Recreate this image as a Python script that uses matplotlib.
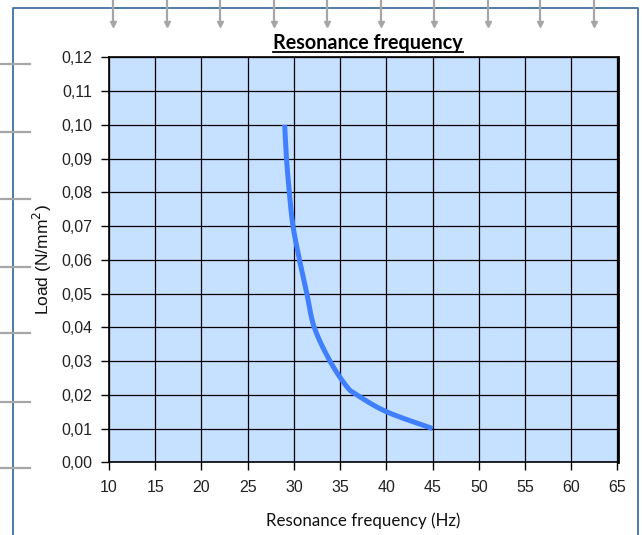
import matplotlib
matplotlib.use("Agg")
import matplotlib.pyplot as plt
from matplotlib.lines import Line2D
from matplotlib.ticker import FuncFormatter
import numpy as np

# Data
frequency_hz = [45.0, 40.0, 36.8, 35.7, 33.9, 32.2, 31.4, 30.6, 29.9, 29.5, 29.2, 29.0]
load_nmm2 = [0.010, 0.015, 0.020, 0.0225, 0.030, 0.040, 0.050, 0.060, 0.070, 0.080, 0.090, 0.100]
x_ticks = [10, 15, 20, 25, 30, 35, 40, 45, 50, 55, 60, 65]
y_ticks = [0.00, 0.01, 0.02, 0.03, 0.04, 0.05, 0.06, 0.07, 0.08, 0.09, 0.10, 0.11, 0.12]

W, H = 642, 535
fig = plt.figure(figsize=(W / 100, H / 100), dpi=100)
fig.patch.set_facecolor("white")

def fx(px):
    return px / W

def fy(py):
    return 1 - py / H

# Decorative frame and markers
fig.add_artist(Line2D([fx(13), fx(13), fx(638), fx(638)], [fy(540), fy(8), fy(8), fy(540)],
                      color="#41719C", lw=1.3))
for xp in [113, 167, 220, 274, 327, 381, 434, 488, 540, 594]:
    fig.add_artist(Line2D([fx(xp), fx(xp)], [fy(0), fy(25)], color="#A6A6A6", lw=1.6))
    fig.add_artist(Line2D([fx(xp)], [fy(24)], marker="v", color="#A6A6A6", ms=5, lw=0))
for yp in [64, 131.7, 199, 266.7, 333.3, 401.7, 468.3]:
    fig.add_artist(Line2D([fx(0), fx(30)], [fy(yp), fy(yp)], color="#A6A6A6", lw=1.6))

ax = fig.add_axes([fx(109), fy(462.3), fx(617.5) - fx(109), fy(57.3) - fy(462.3)])
ax.set_facecolor("#C6E0FF")
ax.set_xlim(10, 65)
ax.set_ylim(0, 0.12)
ax.set_xticks(x_ticks)
ax.set_yticks(y_ticks)
ax.grid(True, color="black", lw=0.9)
ax.set_axisbelow(True)

# Smooth curve (Catmull-Rom through the points, like Excel smoothing)
pts = np.array(list(zip(frequency_hz, load_nmm2)))
P = np.vstack([pts[0], pts, pts[-1]])
cx, cy = [], []
for i in range(1, len(P) - 2):
    p0, p1, p2, p3 = P[i - 1], P[i], P[i + 1], P[i + 2]
    t = np.linspace(0, 1, 20)[:, None]
    c = 0.5 * ((2 * p1) + (-p0 + p2) * t + (2 * p0 - 5 * p1 + 4 * p2 - p3) * t ** 2
               + (-p0 + 3 * p1 - 3 * p2 + p3) * t ** 3)
    cx.extend(c[:, 0]); cy.extend(c[:, 1])
ax.plot(cx, cy, color="#4080FF", lw=3.6, solid_capstyle="butt", zorder=3)

fmt = FuncFormatter(lambda v, p: f"{v:.2f}".replace(".", ","))
ax.yaxis.set_major_formatter(fmt)
for s in ax.spines.values():
    s.set_color("black")
    s.set_linewidth(1.2)
ax.spines["right"].set_linewidth(2)
ax.tick_params(axis="both", direction="out", length=6, width=1, color="black",
               labelsize=11.5, labelcolor="#222222")
ax.tick_params(axis="x", pad=7)
ax.tick_params(axis="y", pad=6)
for lab in ax.get_xticklabels() + ax.get_yticklabels():
    lab.set_family("Liberation Sans")

ax.set_xlabel("Resonance frequency (Hz)", family="Lato", fontsize=12.2, labelpad=12,
              color="#111111")
ax.set_ylabel("Load (N/mm$^2$)", family="Liberation Sans", fontsize=12.5, labelpad=5,
              color="#111111")

title = fig.text(fx(368), fy(43), "Resonance frequency", ha="center", va="center",
                 family="Lato", fontweight="bold", fontsize=14.2)
fig.canvas.draw()
bb = title.get_window_extent(renderer=fig.canvas.get_renderer())
fig.add_artist(Line2D([bb.x0 / W, bb.x1 / W], [fy(51.5), fy(51.5)], color="black", lw=1.3))

fig.savefig("out.png", dpi=100)
